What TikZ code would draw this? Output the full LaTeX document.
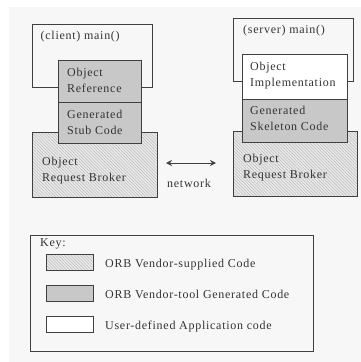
\documentclass[tikz,border=0pt]{standalone}
\usepackage{fontspec}
\setmainfont[LetterSpace=6]{Liberation Serif}
\usetikzlibrary{patterns.meta,arrows.meta}
\definecolor{bg}{HTML}{F7F7F7}
\definecolor{edge}{HTML}{404040}
\definecolor{ink}{HTML}{333333}
\definecolor{gen}{HTML}{C8C8C8}
\definecolor{hatchbg}{HTML}{EBEBEB}
\definecolor{hatchln}{HTML}{BDBDBD}
\tikzset{
  box/.style={draw=edge, line width=0.9pt, rectangle, inner sep=0pt, anchor=north west},
  genbox/.style={box, fill=gen},
  userbox/.style={box, fill=white},
  vendbox/.style={box, preaction={fill=hatchbg}, pattern={Lines[angle=135, distance=2.2pt, line width=0.6pt]}, pattern color=hatchln},
  lbl/.style={anchor=base west, inner sep=0pt, text=ink, font=\fontsize{12}{14}\selectfont},
  netarrow/.style={{Stealth[length=6pt,width=6pt]}-{Stealth[length=6pt,width=6pt]}, line width=1pt, draw=edge}
}
\begin{document}
\begin{tikzpicture}[x=1pt,y=-1pt]
\useasboundingbox (0,0) rectangle (361,362);
\fill[white] (0,0) rectangle (361,362);
\fill[bg] (9,7) rectangle (361,362);
% client side
\node[box, minimum width=120pt, minimum height=63pt] (cmain) at (32,24) {};
\node[vendbox, minimum width=125pt, minimum height=65pt] (corb) at (32,132) {};
\node[genbox, minimum width=83pt, minimum height=42pt] (cref) at (58,60) {};
\node[genbox, minimum width=83pt, minimum height=41pt] (cstub) at (58,102) {};
\node[lbl] (tcmain) at (40.5,39) {(client) main()};
\node[lbl] (tcref1) at (67,76) {Object};
\node[lbl] (tcref2) at (67,92) {Reference};
\node[lbl] (tcstub1) at (67,118) {Generated};
\node[lbl] (tcstub2) at (67,134) {Stub Code};
\node[lbl] (tcorb1) at (42,165) {Object};
\node[lbl] (tcorb2) at (42,181) {Request Broker};
% server side
\node[box, minimum width=120pt, minimum height=63pt] (smain) at (233,18) {};
\node[vendbox, minimum width=124pt, minimum height=65pt] (sorb) at (233,131) {};
\node[userbox, minimum width=105pt, minimum height=45pt] (simpl) at (242,54) {};
\node[genbox, minimum width=105pt, minimum height=43pt] (sskel) at (242,99) {};
\node[lbl] (tsmain) at (243,33) {(server) main()};
\node[lbl] (tsimpl1) at (250,70) {Object};
\node[lbl] (tsimpl2) at (250,86) {Implementation};
\node[lbl] (tsskel1) at (250,114) {Generated};
\node[lbl] (tsskel2) at (250,130) {Skeleton Code};
\node[lbl] (tsorb1) at (243,162) {Object};
\node[lbl] (tsorb2) at (243,178) {Request Broker};
% network
\coordinate (nl) at (166,163);
\coordinate (nr) at (216,163);
\draw[netarrow] (nl) -- (nr);
\node[lbl] (tnet) at (167,187) {network};
% key
\node[box, minimum width=283pt, minimum height=116pt] (key) at (30,235) {};
\node[lbl] (tkey) at (40,246) {Key:};
\node[vendbox, minimum width=47pt, minimum height=16pt] (k1) at (46,254) {};
\node[genbox, minimum width=47pt, minimum height=16pt] (k2) at (46,285) {};
\node[userbox, minimum width=47pt, minimum height=16pt] (k3) at (46,316) {};
\node[lbl] (tk1) at (105,267) {ORB Vendor-supplied Code};
\node[lbl] (tk2) at (105,298) {ORB Vendor-tool Generated Code};
\node[lbl] (tk3) at (105,329) {User-defined Application code};
\end{tikzpicture}
\end{document}
